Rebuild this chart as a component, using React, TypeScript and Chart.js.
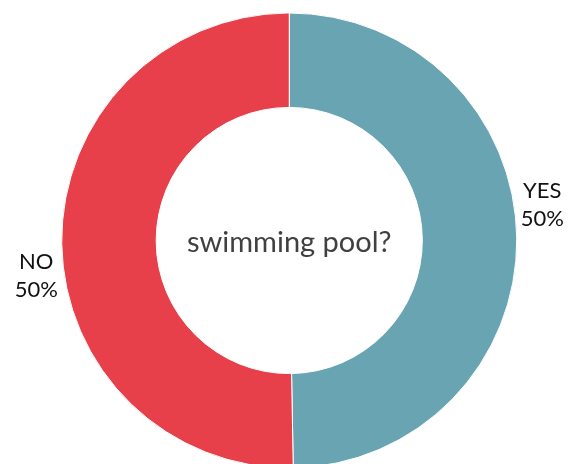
import React, { useEffect, useRef } from "react";
import { Chart, registerables } from "chart.js";

Chart.register(...registerables);

const categories = ["YES", "NO"];
const values = [49.72, 50.28];
const colors = ["#68A4B2", "#E8404A"];
const centerTitle = "swimming pool?";

const labelPlugin = {
  id: "outerLabels",
  afterDraw(chart: any) {
    const ctx = chart.ctx;
    const meta = chart.getDatasetMeta(0);
    const data = chart.data.datasets[0].data as number[];
    const total = data.reduce((a, b) => a + b, 0);
    ctx.save();
    // center text
    const first = meta.data[0];
    const cx = first.x;
    const cy = first.y;
    ctx.font = "29px Lato";
    ctx.fillStyle = "#404040";
    ctx.textAlign = "center";
    ctx.textBaseline = "middle";
    ctx.fillText(centerTitle, cx, cy + 2);
    // outer labels
    ctx.font = "22px Lato";
    ctx.fillStyle = "#111111";
    meta.data.forEach((arc: any, i: number) => {
      const mid = (arc.startAngle + arc.endAngle) / 2 - 0.13;
      const r = arc.outerRadius + 28;
      const x = arc.x + Math.cos(mid) * r;
      const y = arc.y + Math.sin(mid) * r;
      const pct = Math.round((data[i] / total) * 100) + "%";
      ctx.fillText(chart.data.labels[i], x, y - 14);
      ctx.fillText(pct, x, y + 14);
    });
    ctx.restore();
  },
};

export default function App() {
  const ref = useRef<HTMLCanvasElement | null>(null);
  useEffect(() => {
    document.body.style.margin = "0";
    const chart = new Chart(ref.current as HTMLCanvasElement, {
      type: "doughnut",
      data: {
        labels: categories,
        datasets: [
          {
            data: values,
            backgroundColor: colors,
            borderColor: "#ffffff",
            borderWidth: 1,
          },
        ],
      },
      options: {
        responsive: false,
        animation: false,
        cutout: "58.5%",
        layout: { padding: { top: 12.5, bottom: 11.5, left: 61, right: 64.5 } },
        plugins: {
          legend: { display: false },
          tooltip: { enabled: false },
        },
      },
      plugins: [labelPlugin],
    });
    return () => chart.destroy();
  }, []);
  return (
    <div style={{ position: "absolute", left: 0, top: 0, width: 582, height: 464, overflow: "hidden" }}>
      <canvas ref={ref} width={582} height={480} style={{ display: "block" }} />
    </div>
  );
}
